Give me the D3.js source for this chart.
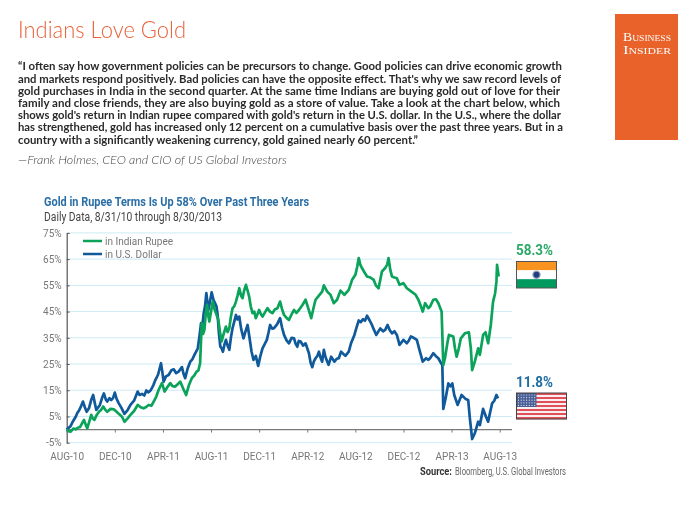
<!DOCTYPE html>
<html><head><meta charset="utf-8">
<script src="https://cdn.jsdelivr.net/npm/d3@7"></script>
<style>html,body{margin:0;padding:0;background:#fff}svg{display:block}</style>
</head><body><svg id="c" width="700" height="525"></svg>
<script>
const title="Indians Love Gold";
const quoteLines=[
"“I often say how government policies can be precursors to change. Good policies can drive economic growth",
"and markets respond positively. Bad policies can have the opposite effect. That's why we saw record levels of",
"gold purchases in India in the second quarter. At the same time Indians are buying gold out of love for their",
"family and close friends, they are also buying gold as a store of value. Take a look at the chart below, which",
"shows gold's return in Indian rupee compared with gold's return in the U.S. dollar. In the U.S., where the dollar",
"has strengthened, gold has increased only 12 percent on a cumulative basis over the past three years. But in a",
"country with a significantly weakening currency, gold gained nearly 60 percent.”"];
const quoteEnds=[562,561,560,560,561,563,418];
const attribution="—Frank Holmes, CEO and CIO of US Global Investors";
const chartTitle="Gold in Rupee Terms Is Up 58% Over Past Three Years";
const chartSub="Daily Data, 8/31/10 through 8/30/2013";
const sourceLead="Source:";
const source="Bloomberg, U.S. Global Investors";
const xLabels=["AUG-10","DEC-10","APR-11","AUG-11","DEC-11","APR-12","AUG-12","DEC-12","APR-13","AUG-13"];
const xTicks=[0,4,8,12,16,20,24,28,32,36];
const yTicks=[-5,5,15,25,35,45,55,65,75];

// months since Aug-10 / cumulative return %
const usdMonths=[0,.15,.33,.5,.75,.9,1.02,1.2,1.35,1.5,1.66,1.85,2.05,2.2,2.35,2.46,2.76,2.95,3.09,3.25,3.37,3.55,3.7,3.85,4,4.15,4.33,4.55,4.8,5.05,5.3,5.6,5.9,6.05,6.26,6.45,6.62,6.8,7,7.2,7.37,7.6,7.84,7.95,8.06,8.25,8.47,8.7,8.9,9.1,9.3,9.58,9.72,9.85,10.05,10.27,10.45,10.62,10.9,11.05,11.17,11.28,11.39,11.5,11.61,11.7,11.78,11.92,12.05,12.2,12.33,12.45,12.55,12.65,12.77,12.88,12.99,13.12,13.24,13.38,13.52,13.65,13.79,13.92,14.07,14.2,14.35,14.5,14.7,14.87,15.04,15.2,15.37,15.53,15.72,15.92,16.1,16.28,16.45,16.64,16.78,16.91,17.08,17.24,17.5,17.74,17.9,18.07,18.28,18.48,18.7,18.9,19.03,19.17,19.3,19.45,19.65,19.86,20,20.14,20.28,20.42,20.55,20.69,20.83,20.97,21.1,21.24,21.38,21.5,21.6,21.77,21.99,22.26,22.45,22.62,22.81,23.17,23.45,23.64,23.92,24.1,24.28,24.45,24.64,24.8,24.97,25.2,25.38,25.55,25.74,26.07,26.3,26.48,26.68,26.85,27.04,27.25,27.45,27.67,28,28.28,28.45,28.61,28.85,29.11,29.35,29.6,29.88,30.07,30.21,30.48,30.7,30.9,31.12,31.23,31.31,31.5,31.73,31.9,32.06,32.22,32.5,32.83,33.16,33.38,33.52,33.71,33.93,34.21,34.35,34.62,34.85,35.04,35.2,35.37,35.55,35.73,35.86];
const usdValues=[0,.6,1.4,3,4.9,6.5,7.2,9,10.7,8.6,6.8,8.1,11.5,13.2,9.8,7.5,9.4,12.2,13.8,11.5,10.7,12,11.3,12,14.1,11.7,10,8.3,6,7.3,9.4,11,14.5,13.2,13.6,13,14.9,14.2,15.1,16.9,18.9,21,25.3,22,18.3,20.3,20.8,22.6,23,21.5,22.1,23.8,21.2,19.6,23.2,25.9,26.8,28.5,31,36,40.6,39.5,44.4,47,52,48.5,45.6,49,52.3,49.5,48.2,47,43.7,37,31.7,31,29.7,32.5,34.2,32,30.4,35,38.7,41,43.7,42,43.1,38.5,34.8,37.5,39.9,35,29.7,26.6,28.1,24.3,28,31,32.5,34.2,37,39.9,38.5,38.7,40.2,42.5,39,36.1,34,32.9,35,34.8,32.8,31.6,33.8,33.6,32,32.9,31,29.1,25.5,23.8,26,27.2,28,29.7,27.5,25.9,30.4,28,26.6,24.7,27.8,25.9,27,27.2,29.7,28.1,29.7,32.9,36.1,39,41.6,41,42.1,41.5,43.4,41.5,39.9,38,36.1,38.6,37.5,38,39.9,38,36.7,37.5,36.1,32.3,34.2,32.9,34,35.5,35,34.2,30,25.9,27.2,26.6,27.2,29.1,28,27.2,25.3,24.6,7.9,11.9,17.6,16.5,17.6,13.2,9.4,13.2,11.7,11.3,4.3,-3.6,-1.4,3,1.7,7.9,5,3,6.5,10,11,13.2,11.9];
const inrMonths=[0,.15,.33,.55,.75,.95,1.1,1.3,1.44,1.6,1.71,1.9,2.04,2.17,2.3,2.5,2.68,2.85,3.04,3.2,3.37,3.65,3.92,4.15,4.33,4.6,4.8,5.05,5.3,5.6,5.9,6.15,6.4,6.6,6.82,7.05,7.23,7.45,7.64,7.92,8.05,8.14,8.4,8.61,8.8,9.02,9.25,9.44,9.7,9.93,10.15,10.4,10.6,10.8,10.95,11.09,11.23,11.34,11.45,11.56,11.67,11.77,11.86,12,12.14,12.28,12.41,12.61,12.75,12.88,13.05,13.24,13.38,13.52,13.65,13.79,13.93,14.07,14.2,14.35,14.5,14.62,14.75,14.9,15.05,15.17,15.3,15.45,15.6,15.72,15.86,16,16.15,16.28,16.5,16.69,16.9,17.1,17.3,17.52,17.74,17.9,18.07,18.28,18.48,18.7,18.9,19.1,19.31,19.6,19.86,20.1,20.33,20.5,20.69,20.95,21.24,21.38,21.66,21.93,22.21,22.48,22.76,23.09,23.45,23.73,24,24.15,24.28,24.4,24.55,24.75,24.97,25.25,25.52,25.7,25.93,26.21,26.48,26.65,26.76,26.9,27.04,27.25,27.45,27.67,28,28.28,28.69,29,29.24,29.45,29.6,29.8,30.07,30.21,30.48,30.7,30.9,31.17,31.31,31.45,31.67,31.78,32.14,32.28,32.42,32.6,32.77,33.1,33.44,33.6,33.71,33.93,34.21,34.35,34.62,34.82,35.04,35.26,35.45,35.62,35.73,35.78,35.92];
const inrValues=[0,-.6,-.8,.4,.1,.8,.9,2.6,3.7,1.6,.5,3.4,5.6,4.2,3.7,5.6,6.8,7.5,8.8,7.6,6.8,7.9,7.7,6.8,6,4.9,3,4.2,5.6,7.1,9.4,8.5,8.1,8.6,9.4,9.1,10.7,12.6,15.1,17.7,15.8,14.5,16.4,17.7,16.6,16.4,17.4,18.3,15.5,13.2,16.8,19.6,20.6,22.1,22.6,25.3,40.6,36.5,38,44,47.6,43.5,41.2,45,48.8,46,44.4,41.8,37,33.6,36.5,39.3,37.2,38.7,43,46.3,47,48.8,51,53.9,51,50.1,53,55.2,52.8,50.7,47,44.4,45,42.5,44,45.6,44,43.1,44.8,46.3,45,44.4,45.8,46.3,48.8,46,43.7,42.6,41.8,44,45.6,44.5,45.6,47.5,49.5,46,42.5,46,49.5,51,52.6,55,52.6,51.4,48.2,49.5,53,51.4,53.3,57.1,59,62,65.4,63,61.6,60,58.4,58,57.1,55,53.9,60.3,61.6,63,65.4,61,58.4,58,57.7,55.2,55.8,53.9,52.5,51.5,49.5,47,45,48.2,46.3,46.9,49.5,49.7,48.2,45,24.6,27.2,33.6,36.1,35.5,31,27.8,31,34.8,36.7,37.1,31,22.7,25.9,31,28.5,36.1,37.1,32.9,39.9,48.8,52,56.5,62.8,58.4];

const svg=d3.select("#c").style("filter","blur(0.3px)");
const GREEN="#0ba35a",BLUE="#10599a";
const cond='"Liberation Sans Narrow","Roboto","Liberation Sans",sans-serif';
const body='Lato,"Open Sans",sans-serif';

svg.append("text").attr("x",18).attr("y",38).attr("font-family",body).attr("font-weight",300).attr("font-size",22.5)
  .attr("fill","#e8623a").attr("textLength",168).attr("lengthAdjust","spacingAndGlyphs").text(title);
svg.append("g").selectAll("text").data(quoteLines).join("text")
  .attr("x",18).attr("y",(d,i)=>70.3+i*12.2)
  .attr("font-family",body).attr("font-weight",700).attr("font-size",10.8).attr("fill","#2a2a2a")
  .attr("textLength",(d,i)=>quoteEnds[i]-18).attr("lengthAdjust","spacingAndGlyphs").text(d=>d);
svg.append("text").attr("x",18).attr("y",164).attr("font-family",body).attr("font-style","italic").attr("font-weight",300)
  .attr("font-size",11.5).attr("fill","#444").attr("textLength",269).attr("lengthAdjust","spacingAndGlyphs").text(attribution);

// Logo
svg.append("rect").attr("x",615).attr("y",14).attr("width",63).attr("height",126).attr("fill","#e8622a");
[["Business",40.7],["Insider",53.8]].forEach(([t,yy])=>{
  svg.append("text").attr("x",623).attr("y",yy).attr("font-family",'"Liberation Serif",serif')
   .attr("font-size",11.5).attr("fill","#fff").style("font-variant","small-caps")
   .attr("textLength",48).attr("lengthAdjust","spacingAndGlyphs").text(t);
});

const chart=svg.append("g");
const x=d3.scaleLinear().domain([0,36]).range([66.7,499.7]);
const y=d3.scaleLinear().domain([-5,75]).range([442.7,232.9]);

chart.append("text").attr("x",44).attr("y",206).attr("font-family",cond).attr("font-weight",700)
  .attr("font-size",13).attr("fill","#2a6ea6").attr("textLength",265).attr("lengthAdjust","spacingAndGlyphs").text(chartTitle);
chart.append("text").attr("x",44).attr("y",221).attr("font-family",cond)
  .attr("font-size",12.5).attr("fill","#444").attr("textLength",178).attr("lengthAdjust","spacingAndGlyphs").text(chartSub);

// Grid
chart.append("g").selectAll("line").data(yTicks).join("line")
  .attr("x1",x(0)).attr("x2",512).attr("y1",d=>y(d)).attr("y2",d=>y(d))
  .attr("stroke","#cdebf5").attr("stroke-width",1);

// X axis crossing at zero
const xAxis=d3.axisBottom(x).tickValues(xTicks).tickFormat((d,i)=>xLabels[i]).tickSize(3).tickPadding(20);
const gx=chart.append("g").attr("transform",`translate(0,${y(0)})`).call(xAxis);
gx.select(".domain").remove();
gx.append("line").attr("x1",x(0)).attr("x2",512).attr("stroke","#7a7a7a").attr("stroke-width",1.2);
gx.selectAll(".tick line").attr("stroke","#7a7a7a");
gx.selectAll(".tick text").attr("font-family",cond).attr("font-size",10).attr("fill","#777");

// Y axis
const yAxis=d3.axisLeft(y).tickValues(yTicks).tickFormat(d=>d+"%").tickSize(0).tickPadding(5);
const gy=chart.append("g").attr("transform",`translate(${x(0)},0)`).call(yAxis);
gy.select(".domain").attr("stroke","#555").attr("stroke-width",1.2);
gy.selectAll(".tick text").attr("font-family",cond).attr("font-size",10).attr("fill","#777");
gy.selectAll(".tick").append("line").attr("x1",0).attr("x2",3).attr("stroke","#555");

// Lines
const line=d3.line().x(d=>x(d[0])).y(d=>y(d[1]));
chart.append("path").datum(d3.zip(usdMonths,usdValues)).attr("d",line).attr("fill","none")
  .attr("stroke",BLUE).attr("stroke-width",2.7).attr("stroke-linejoin","round");
chart.append("path").datum(d3.zip(inrMonths,inrValues)).attr("d",line).attr("fill","none")
  .attr("stroke",GREEN).attr("stroke-width",2.7).attr("stroke-linejoin","round");

// Legend
[["in Indian Rupee",GREEN,241],["in U.S. Dollar",BLUE,254]].forEach(([t,c,yy])=>{
  chart.append("line").attr("x1",83).attr("x2",102).attr("y1",yy).attr("y2",yy).attr("stroke",c).attr("stroke-width",2.5);
  chart.append("text").attr("x",105).attr("y",yy+3.5).attr("font-family",cond).attr("font-size",10).attr("fill","#777").text(t);
});

// End labels
chart.append("text").attr("x",516).attr("y",255).attr("font-family",cond).attr("font-weight",700).attr("font-size",15.5)
  .attr("fill","#2aa866").attr("textLength",37).attr("lengthAdjust","spacingAndGlyphs").text("58.3%");
chart.append("text").attr("x",516).attr("y",387).attr("font-family",cond).attr("font-weight",700).attr("font-size",15.5)
  .attr("fill","#1d6ca3").attr("textLength",37).attr("lengthAdjust","spacingAndGlyphs").text("11.8%");

// India flag
const fi=chart.append("g");
const iy=d3.scaleBand().domain([0,1,2]).range([261.5,288]);
fi.selectAll("rect").data(["#f7931e","#ffffff","#009a5f"]).join("rect")
  .attr("x",516.5).attr("width",40).attr("y",(d,i)=>iy(i)).attr("height",iy.bandwidth()).attr("fill",d=>d);
fi.append("rect").attr("x",516.5).attr("y",261.5).attr("width",40).attr("height",26.5).attr("fill","none").attr("stroke","#555");
fi.append("circle").attr("cx",536.5).attr("cy",274.7).attr("r",3.6).attr("fill","#1f3f7f").attr("stroke","#9aa6c4").attr("stroke-width",1.2);

// US flag
const fu=chart.append("g");
const uy=d3.scaleBand().domain(d3.range(13)).range([393,419]);
fu.selectAll("rect").data(d3.range(13)).join("rect")
  .attr("x",516.5).attr("width",50).attr("y",i=>uy(i)).attr("height",uy.bandwidth()+.2)
  .attr("fill",i=>i%2?"#fbeeee":"#e0505a");
fu.append("rect").attr("x",516.5).attr("y",393).attr("width",20).attr("height",14).attr("fill","#4a5f96");
for(let r=0;r<5;r++)for(let c=0;c<7;c++)
  fu.append("circle").attr("cx",518.5+c*2.7).attr("cy",395+r*2.6).attr("r",.6).attr("fill","#dfe4f2");
fu.append("rect").attr("x",516.5).attr("y",393).attr("width",50).attr("height",26).attr("fill","none").attr("stroke","#444");

// Source
chart.append("text").attr("x",420).attr("y",475).attr("font-family",cond).attr("font-size",10).attr("font-weight",700).attr("fill","#333")
  .attr("textLength",32).attr("lengthAdjust","spacingAndGlyphs").text(sourceLead);
chart.append("text").attr("x",455).attr("y",475).attr("font-family",cond).attr("font-size",10).attr("fill","#666")
  .attr("textLength",111).attr("lengthAdjust","spacingAndGlyphs").text(source);
</script></body></html>
